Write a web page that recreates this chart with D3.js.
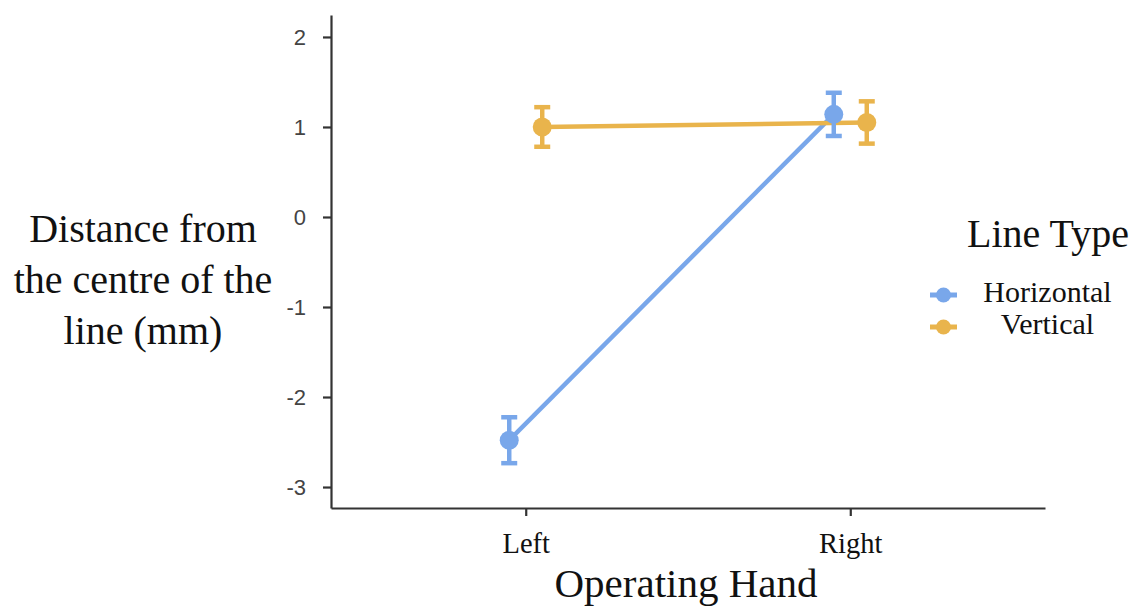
<!DOCTYPE html>
<html>
<head>
<meta charset="utf-8">
<script src="https://cdn.jsdelivr.net/npm/d3@7"></script>
<style>
  html, body { margin: 0; padding: 0; background: #fff; }
  svg { display: block; }
</style>
</head>
<body>
<svg id="chart" width="1137" height="608"></svg>
<script>
// ---- data ----
const hands = ["Left", "Right"];
const seriesNames = ["Horizontal", "Vertical"];
const horizontalMean = [-2.48, 1.14];
const horizontalSE = [0.255, 0.24];
const verticalMean = [1.00, 1.05];
const verticalSE = [0.22, 0.235];
const yTicks = [-3, -2, -1, 0, 1, 2];
const colors = ["#79a7ea", "#e9b44c"];
const yTitleLines = ["Distance from", "the centre of the", "line (mm)"];
const xTitle = "Operating Hand";
const legendTitle = "Line Type";

const series = [
  { name: seriesNames[0], mean: horizontalMean, se: horizontalSE, color: colors[0] },
  { name: seriesNames[1], mean: verticalMean, se: verticalSE, color: colors[1] }
];

const svg = d3.select("#chart");
const plotLeft = 331, plotRight = 1045, plotTop = 15, plotBottom = 508;

const x = d3.scalePoint().domain(hands).range([plotLeft, plotRight]).padding(0.6);
const dodge = d3.scalePoint().domain(seriesNames).range([-16.5, 16.5]);
const y = d3.scaleLinear().domain([-3.233, 2.244]).range([plotBottom, plotTop]);

const serif = "'Liberation Serif', 'Times New Roman', serif";
const sans = "'Liberation Sans', Arial, sans-serif";

// y axis
const yAxis = svg.append("g")
  .attr("transform", `translate(${plotLeft},0)`)
  .call(d3.axisLeft(y).tickValues(yTicks).tickFormat(d => String(d))
    .tickSize(8).tickPadding(17).tickSizeOuter(0));
yAxis.select(".domain").attr("stroke", "#333").attr("stroke-width", 2.2);
yAxis.selectAll(".tick line").attr("stroke", "#333").attr("stroke-width", 2.2);
yAxis.selectAll(".tick text").attr("font-family", sans).attr("font-size", 22).attr("fill", "#444");

// x axis
const xAxis = svg.append("g")
  .attr("transform", `translate(0,${plotBottom})`)
  .call(d3.axisBottom(x).tickSize(8).tickPadding(17).tickSizeOuter(0));
xAxis.select(".domain").attr("stroke", "#333").attr("stroke-width", 2.2);
xAxis.selectAll(".tick line").attr("stroke", "#333").attr("stroke-width", 2.2);
xAxis.selectAll(".tick text").attr("font-family", serif).attr("font-size", 28.5).attr("fill", "#111");

// lines
const line = d3.line()
  .x((d, i) => x(hands[i]) + dodge(d.name))
  .y(d => y(d.v));

series.forEach(s => {
  const pts = s.mean.map(v => ({ v, name: s.name }));
  svg.append("path")
    .datum(pts)
    .attr("d", line)
    .attr("fill", "none")
    .attr("stroke", s.color)
    .attr("stroke-width", 4.5);
});

// error bars + points
series.forEach(s => {
  const g = svg.append("g");
  hands.forEach((h, i) => {
    const cx = x(h) + dodge(s.name);
    const lo = y(s.mean[i] - s.se[i]);
    const hi = y(s.mean[i] + s.se[i]);
    g.append("line").attr("x1", cx).attr("x2", cx).attr("y1", lo).attr("y2", hi)
      .attr("stroke", s.color).attr("stroke-width", 4.5);
    [lo, hi].forEach(yy => {
      g.append("line").attr("x1", cx - 8).attr("x2", cx + 8).attr("y1", yy).attr("y2", yy)
        .attr("stroke", s.color).attr("stroke-width", 4.5);
    });
    g.append("circle").attr("cx", cx).attr("cy", y(s.mean[i])).attr("r", 9.5)
      .attr("fill", s.color);
  });
});

// y title
const yt = svg.append("text").attr("font-family", serif).attr("font-size", 40)
  .attr("fill", "#111").attr("text-anchor", "middle");
yTitleLines.forEach((t, i) => {
  yt.append("tspan").attr("x", 143).attr("y", 242 + i * 51).text(t);
});

// x title
svg.append("text").attr("x", 686).attr("y", 597)
  .attr("font-family", serif).attr("font-size", 41).attr("fill", "#111")
  .attr("text-anchor", "middle").text(xTitle);

// legend
svg.append("text").attr("x", 967).attr("y", 247)
  .attr("font-family", serif).attr("font-size", 40).attr("fill", "#111").text(legendTitle);
series.forEach((s, i) => {
  const ly = 295 + i * 32;
  svg.append("line").attr("x1", 930).attr("x2", 957).attr("y1", ly).attr("y2", ly)
    .attr("stroke", s.color).attr("stroke-width", 5);
  svg.append("circle").attr("cx", 943.5).attr("cy", ly).attr("r", 7.5).attr("fill", s.color);
  svg.append("text").attr("x", 1047.5).attr("y", ly + 7)
    .attr("font-family", serif).attr("font-size", 30).attr("fill", "#111")
    .attr("text-anchor", "middle").text(s.name);
});
</script>
</body>
</html>
